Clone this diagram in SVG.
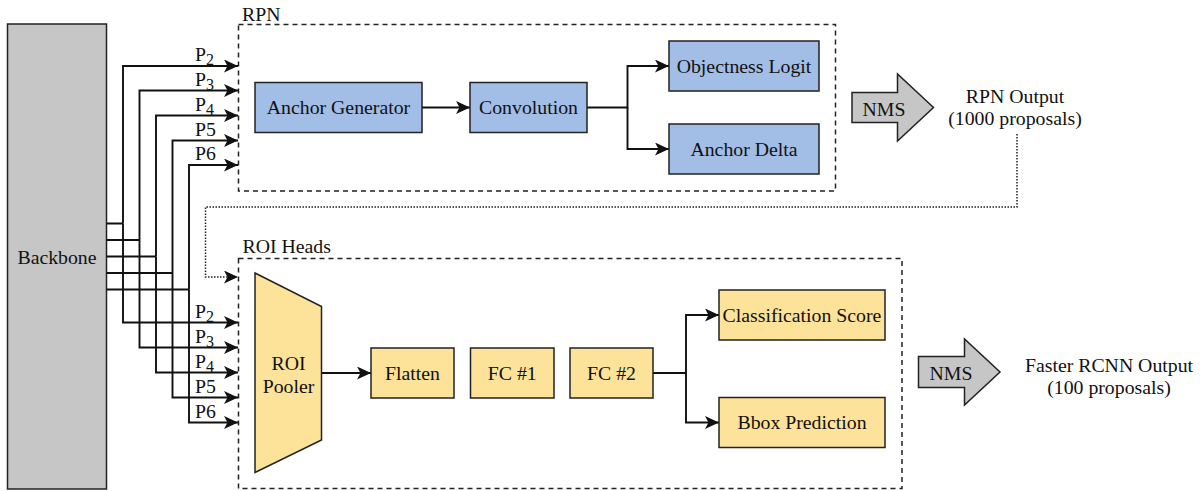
<svg xmlns="http://www.w3.org/2000/svg" width="1204" height="491" viewBox="0 0 1204 491">
<style>
text{font-family:"Liberation Serif","Times New Roman",serif;font-size:19.8px;fill:#111}
.c{text-anchor:middle}
.sub{font-size:16px}
.box{stroke:#222;stroke-width:1.5}
.blue{fill:#a2bde6}
.yel{fill:#fde29a}
.gray{fill:#c6c6c6;stroke:#222;stroke-width:1.5}
.grp{fill:none;stroke:#222;stroke-width:1.5;stroke-dasharray:5 4}
.ln{fill:none;stroke:#111;stroke-width:1.9}
.arr{marker-end:url(#ah)}
.dot{fill:none;stroke:#222;stroke-width:1.5;stroke-dasharray:1.5 1.5}
</style>
<defs>
<marker id="ah" markerUnits="userSpaceOnUse" markerWidth="16" markerHeight="14" refX="14" refY="6.5" orient="auto">
<path d="M0,0 L14,6.5 L0,13 L3.5,6.5 Z" fill="#111"/>
</marker>
</defs>

<g id="rpn-group">
<rect class="grp" x="238.5" y="24.5" width="597" height="166.5"/>
<text x="242" y="21">RPN</text>
</g>
<g id="roi-group">
<rect class="grp" x="238.5" y="258.5" width="663.5" height="230"/>
<text x="242.5" y="253">ROI Heads</text>
</g>

<g id="backbone">
<rect class="gray" x="7.5" y="24" width="99" height="465"/>
<text class="c" x="57" y="263.5">Backbone</text>
</g>

<g id="connectors">
<path class="ln" d="M106.5,223.5 H123 M106.5,240 H139.5 M106.5,256.5 H156 M106.5,273 H172.5 M106.5,289.5 H189"/>
<path class="ln arr" d="M123,223.5 V66 H238"/>
<path class="ln arr" d="M139.5,240 V90.5 H238"/>
<path class="ln arr" d="M156,256.5 V115.5 H238"/>
<path class="ln arr" d="M172.5,273 V140.5 H238"/>
<path class="ln arr" d="M189,289.5 V165 H238"/>
<path class="ln arr" d="M123,223.5 V322.5 H238"/>
<path class="ln arr" d="M139.5,240 V347.5 H238"/>
<path class="ln arr" d="M156,256.5 V372.5 H238"/>
<path class="ln arr" d="M172.5,273 V397.5 H238"/>
<path class="ln arr" d="M189,289.5 V422.5 H238"/>
<path class="ln arr" d="M422,107.5 H470"/>
<path class="ln arr" d="M587,107.5 H627.5 V66 H669"/>
<path class="ln arr" d="M627.5,107.5 V149 H669"/>
<path class="ln arr" d="M322,373 H371"/>
<path class="ln arr" d="M653,373 H686 V315 H719"/>
<path class="ln arr" d="M686,373 V422.5 H719"/>
<path class="dot arr" d="M1017,134 V207 H205.5 V277 H238"/>
</g>

<g id="labels">
<text x="195" y="61">P<tspan class="sub" dy="4">2</tspan></text>
<text x="195" y="85.5">P<tspan class="sub" dy="4">3</tspan></text>
<text x="195" y="110.5">P<tspan class="sub" dy="4">4</tspan></text>
<text x="195" y="135.5">P5</text>
<text x="195" y="160">P6</text>
<text x="195" y="317.5">P<tspan class="sub" dy="4">2</tspan></text>
<text x="195" y="342.5">P<tspan class="sub" dy="4">3</tspan></text>
<text x="195" y="367.5">P<tspan class="sub" dy="4">4</tspan></text>
<text x="195" y="392.5">P5</text>
<text x="195" y="417.5">P6</text>
</g>

<g id="anchor-generator">
<rect class="box blue" x="255" y="82.5" width="167" height="50"/>
<text class="c" x="338.5" y="114">Anchor Generator</text>
</g>
<g id="convolution">
<rect class="box blue" x="470" y="82.5" width="117" height="50"/>
<text class="c" x="528.5" y="114">Convolution</text>
</g>
<g id="objectness-logit">
<rect class="box blue" x="669" y="41" width="150" height="50"/>
<text class="c" x="744" y="72.5">Objectness Logit</text>
</g>
<g id="anchor-delta">
<rect class="box blue" x="669" y="124" width="150" height="50"/>
<text class="c" x="744" y="155.5">Anchor Delta</text>
</g>

<g id="nms-rpn">
<path class="gray" d="M852,92.5 H897.5 V74 L933.5,107.5 L897.5,141 V122.5 H852 Z"/>
<text class="c" x="884" y="116">NMS</text>
</g>
<g id="rpn-output">
<text class="c" x="1015" y="103">RPN Output</text>
<text class="c" x="1015" y="124.5">(1000 proposals)</text>
</g>

<g id="roi-pooler">
<path class="box yel" d="M255,273 L321.5,306.5 V440 L255,472.5 Z"/>
<text class="c" x="288.5" y="369.5">ROI</text>
<text class="c" x="288.5" y="393">Pooler</text>
</g>
<g id="flatten">
<rect class="box yel" x="371" y="348" width="83" height="50"/>
<text class="c" x="412.5" y="379.5">Flatten</text>
</g>
<g id="fc1">
<rect class="box yel" x="470.5" y="348" width="83.5" height="50"/>
<text class="c" x="512.3" y="379.5">FC #1</text>
</g>
<g id="fc2">
<rect class="box yel" x="570" y="348" width="83" height="50"/>
<text class="c" x="611.5" y="379.5">FC #2</text>
</g>
<g id="classification-score">
<rect class="box yel" x="719" y="290" width="166" height="50"/>
<text class="c" x="802" y="321.5">Classification Score</text>
</g>
<g id="bbox-prediction">
<rect class="box yel" x="719" y="397.5" width="166" height="50"/>
<text class="c" x="802" y="429">Bbox Prediction</text>
</g>

<g id="nms-roi">
<path class="gray" d="M918.5,356.5 H964.5 V339 L1000,372 L964.5,405 V387.5 H918.5 Z"/>
<text class="c" x="951" y="380">NMS</text>
</g>
<g id="faster-rcnn-output">
<text class="c" x="1109" y="372">Faster RCNN Output</text>
<text class="c" x="1109" y="393.5">(100 proposals)</text>
</g>
</svg>
